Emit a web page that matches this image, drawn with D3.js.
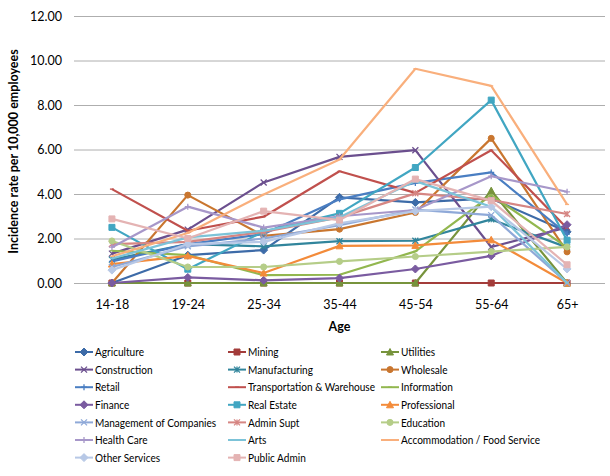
<!DOCTYPE html>
<html><head><meta charset="utf-8">
<script src="https://cdn.jsdelivr.net/npm/d3@7"></script>
<style>
html,body{margin:0;padding:0;background:#fff;}
svg text{font-family:Lato,"Open Sans",sans-serif;fill:#000;}
</style></head>
<body><svg id="c" width="610" height="476"></svg>
<script>
const ages = ["14-18","19-24","25-34","35-44","45-54","55-64","65+"];
const yTicks = [0,2,4,6,8,10,12];
const industries = ["Agriculture","Mining","Utilities","Construction","Manufacturing","Wholesale","Retail","Transportation & Warehouse","Information","Finance","Real Estate","Professional","Management of Companies","Admin Supt","Education","Health Care","Arts","Accommodation / Food Service","Other Services","Public Admin"];

const agriculture    = [0, 1.25, 1.48, 3.85, 3.62, 3.8, 2.3];
const mining         = [0, 0, 0, 0, 0, 0, 0];
const utilities      = [0, 0, 0, 0, 0, 4.15, 0];
const construction   = [1.32, 2.4, 4.52, 5.67, 5.97, 1.62, 2.5];
const manufacturing  = [1.05, 1.75, 1.65, 1.88, 1.9, 2.86, 1.6];
const wholesale      = [0, 3.95, 2.12, 2.42, 3.17, 6.5, 1.4];
const retail         = [0.97, 1.75, 2.2, 3.76, 4.5, 4.97, 2.2];
const transportation = [4.22, 2.35, 2.98, 5.02, 4.05, 5.97, 2.46];
const information    = [1.45, 1.25, 0.35, 0.37, 1.42, 3.95, 1.6];
const finance        = [0, 0.25, 0.12, 0.22, 0.63, 1.22, 2.62];
const realEstate     = [2.5, 0.62, 2.31, 3.13, 5.19, 8.22, 1.92];
const professional   = [0.85, 1.22, 0.45, 1.67, 1.69, 1.94, 0];
const management     = [0.72, 1.65, 2.0, 2.6, 3.3, 3.05, 0];
const adminSupt      = [1.75, 1.85, 2.3, 2.95, 4.03, 3.73, 3.1];
const education      = [1.89, 0.72, 0.72, 0.97, 1.19, 1.41, 1.62];
const healthCare     = [1.61, 3.43, 2.49, 3.0, 3.28, 4.8, 4.1];
const arts           = [1.1, 2.05, 2.35, 2.95, 4.58, 3.43, 0];
const accommodation  = [1.2, 2.25, 3.98, 5.55, 9.63, 8.86, 3.53];
const otherServices  = [0.58, 1.75, 1.85, 2.68, 3.23, 3.43, 0.63];
const publicAdmin    = [2.88, 2.0, 3.23, 2.83, 4.67, 3.7, 0.82];

const seriesValues = [agriculture, mining, utilities, construction, manufacturing, wholesale, retail, transportation, information, finance, realEstate, professional, management, adminSupt, education, healthCare, arts, accommodation, otherServices, publicAdmin];

const colors = ["#3D6BA8","#A33C3A","#77933C","#6B4F8E","#31859C","#C9762F","#4A7EC2","#C0504D","#92B74F","#7A5BA0","#41A6C2","#F38B3A","#8FA9D8","#D68683","#B5CD88","#A797C9","#7CC3D8","#F9AF7C","#B7C8E6","#E4B3B3"];
const markers = ["diamond","square","triangle","x","star","circle","plus","dash","dash","diamond","square","triangle","x","star","circle","plus","dash","dash","diamond","square"];

const svg = d3.select("#c");
const plot = {left:74, right:605, top:16, bottom:283};

const x = d3.scalePoint().domain(ages).range([plot.left, plot.right]).padding(0.5);
const y = d3.scaleLinear().domain([0,12]).range([plot.bottom, plot.top]);

// gridlines
svg.append("g").selectAll("line").data(yTicks).join("line")
  .attr("x1", plot.left).attr("x2", plot.right)
  .attr("y1", d=>y(d)+0.5).attr("y2", d=>y(d)+0.5)
  .attr("stroke", "#AEAEAE").attr("stroke-width", 1);

// y axis
const yAxis = svg.append("g").attr("transform", `translate(${plot.left-12},0)`)
  .call(d3.axisLeft(y).tickValues(yTicks).tickFormat(d3.format(".2f")).tickSize(0).tickPadding(0));
yAxis.select(".domain").remove();
yAxis.selectAll("text").attr("font-size", 12.5).attr("dy", "0.35em");

// x axis
const xAxis = svg.append("g").attr("transform", `translate(0,${plot.bottom})`)
  .call(d3.axisBottom(x).tickSize(0).tickPadding(17));
xAxis.select(".domain").remove();
xAxis.selectAll("text").attr("font-size", 12.5);

svg.append("text").attr("x", (plot.left+plot.right)/2).attr("y", 331)
  .attr("text-anchor","middle").attr("font-size",12.5).attr("font-weight","bold").text("Age");
svg.append("text").attr("transform", `translate(18,${(plot.top+plot.bottom)/2+2}) rotate(-90)`)
  .attr("text-anchor","middle").attr("font-size",12.5).attr("font-weight","bold")
  .text("Incidence rate per 10,000 employees");

function markerPath(type, s){
  const h = s/2;
  switch(type){
    case "diamond": return `M0,${-h-1}L${h+1},0L0,${h+1}L${-h-1},0Z`;
    case "square": return `M${-h},${-h}H${h}V${h}H${-h}Z`;
    case "triangle": return `M0,${-h-0.5}L${h+0.5},${h}L${-h-0.5},${h}Z`;
    case "x": return `M${-h},${-h}L${h},${h}M${-h},${h}L${h},${-h}`;
    case "star": return `M${-h},${-h}L${h},${h}M${-h},${h}L${h},${-h}M0,${-h}V${h}`;
    case "circle": return d3.symbol(d3.symbolCircle, s*s*0.8)();
    case "plus": return `M${-h},0H${h}M0,${-h}V${h}`;
    case "dash": return `M${-h+1},0H${h-1}`;
  }
}
function drawMarker(g, type, color){
  const filled = ["diamond","square","triangle","circle"].includes(type);
  g.append("path").attr("d", markerPath(type, 6))
   .attr("fill", filled ? color : "none")
   .attr("stroke", color).attr("stroke-width", filled ? 1 : 1.3);
}

const line = d3.line().x((d,i)=>x(ages[i])).y(d=>y(d));
const series = svg.append("g");
seriesValues.forEach((vals, si)=>{
  const g = series.append("g");
  g.append("path").attr("d", line(vals)).attr("fill","none")
    .attr("stroke", colors[si]).attr("stroke-width", 2.2).attr("stroke-linejoin","round");
  vals.forEach((v,i)=>{
    const mg = g.append("g").attr("transform", `translate(${x(ages[i])},${y(v)})`);
    drawMarker(mg, markers[si], colors[si]);
  });
});

// legend
const legend = svg.append("g");
industries.forEach((name, i)=>{
  const col = i % 3, row = Math.floor(i/3);
  const lx = 75 + col*153, ly = 352 + row*17.6;
  const g = legend.append("g").attr("transform", `translate(${lx},${ly})`);
  g.append("line").attr("x1",0).attr("x2",18).attr("y1",0).attr("y2",0)
    .attr("stroke", colors[i]).attr("stroke-width", 2);
  const mg = g.append("g").attr("transform","translate(9,0)");
  drawMarker(mg, markers[i], colors[i]);
  g.append("text").attr("transform","translate(20,0) scale(0.84,1)").attr("dy","0.35em")
    .attr("font-size", 12).attr("fill","#222").text(name);
});
</script></body></html>
